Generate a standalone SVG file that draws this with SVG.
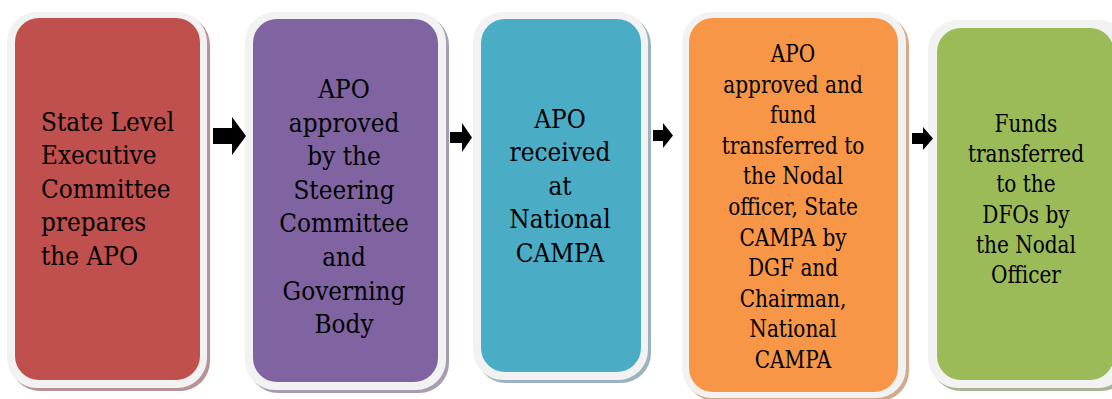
<svg xmlns="http://www.w3.org/2000/svg" width="1112" height="399" viewBox="0 0 1112 399">
<style>
.frame{fill:#f2f2f2}
.t{fill:#000;font-family:'DejaVu Serif',serif}
.big{font-size:26px}
.sm{font-size:23.7px}
.c{text-anchor:middle}
.arrow{fill:#000}
</style>
<rect width="1112" height="399" fill="#ffffff"/>
<g id="node1">
<rect x="10" y="15" width="200" height="376" rx="30" fill="#b89294"/>
<rect class="frame" x="7" y="12" width="200" height="376" rx="30"/>
<rect x="15" y="18" width="185" height="362" rx="24" fill="#c0504d"/>
<text class="t big" font-family="DejaVu Serif" transform="scale(0.895,1)"><tspan x="45.8" y="131">State Level</tspan><tspan x="45.8" y="164.5">Executive</tspan><tspan x="45.8" y="198">Committee</tspan><tspan x="45.8" y="231.5">prepares</tspan><tspan x="45.8" y="265">the APO</tspan></text>
</g>
<g id="node2">
<rect x="248" y="15" width="201" height="378" rx="30" fill="#a69db2"/>
<rect class="frame" x="245" y="12" width="201" height="378" rx="30"/>
<rect x="253" y="19" width="185" height="363" rx="24" fill="#8064a2"/>
<text class="t big c" font-family="DejaVu Serif" transform="scale(0.895,1)"><tspan x="384.4" y="98">APO</tspan><tspan x="384.4" y="131.6">approved</tspan><tspan x="384.4" y="165.2">by the</tspan><tspan x="384.4" y="198.8">Steering</tspan><tspan x="384.4" y="232.4">Committee</tspan><tspan x="384.4" y="266">and</tspan><tspan x="384.4" y="299.6">Governing</tspan><tspan x="384.4" y="333.2">Body</tspan></text>
</g>
<g id="node3">
<rect x="476" y="15" width="175" height="368" rx="30" fill="#9ab3be"/>
<rect class="frame" x="473" y="12" width="175" height="368" rx="30"/>
<rect x="481" y="19" width="160" height="353" rx="24" fill="#4bacc6"/>
<text class="t big c" font-family="DejaVu Serif" transform="scale(0.895,1)"><tspan x="625.7" y="128">APO</tspan><tspan x="625.7" y="161.5">received</tspan><tspan x="625.7" y="195">at</tspan><tspan x="625.7" y="228.5">National</tspan><tspan x="625.7" y="262">CAMPA</tspan></text>
</g>
<g id="node4">
<rect x="685" y="15" width="224" height="386" rx="30" fill="#d3aa8c"/>
<rect class="frame" x="682" y="12" width="224" height="386" rx="30"/>
<rect x="689" y="18" width="209" height="374" rx="24" fill="#f79646"/>
<text class="t sm c" font-family="DejaVu Serif" transform="scale(0.847,1)"><tspan x="936.3" y="62">APO</tspan><tspan x="936.3" y="92.6">approved and</tspan><tspan x="936.3" y="123.2">fund</tspan><tspan x="936.3" y="153.8">transferred to</tspan><tspan x="936.3" y="184.4">the Nodal</tspan><tspan x="936.3" y="215">officer, State</tspan><tspan x="936.3" y="245.6">CAMPA by</tspan><tspan x="936.3" y="276.2">DGF and</tspan><tspan x="936.3" y="306.8">Chairman,</tspan><tspan x="936.3" y="337.4">National</tspan><tspan x="936.3" y="368">CAMPA</tspan></text>
</g>
<g id="node5">
<rect x="931" y="23" width="200" height="368" rx="30" fill="#a7b596"/>
<rect class="frame" x="928" y="20" width="200" height="368" rx="30"/>
<rect x="937" y="28" width="177" height="352" rx="24" fill="#9bbb59"/>
<text class="t sm c" font-family="DejaVu Serif" transform="scale(0.847,1)"><tspan x="1211.3" y="132">Funds</tspan><tspan x="1211.3" y="162.2">transferred</tspan><tspan x="1211.3" y="192.4">to the</tspan><tspan x="1211.3" y="222.6">DFOs by</tspan><tspan x="1211.3" y="252.8">the Nodal</tspan><tspan x="1211.3" y="283">Officer</tspan></text>
</g>
<g id="connectors">
<polygon class="arrow" points="213,128 232,128 232,117 246,136 232,155 232,144 213,144"/>
<polygon class="arrow" points="450,132 462,132 462,123 472,137.5 462,152 462,143 450,143"/>
<polygon class="arrow" points="653,130 663,130 663,123 673,135.5 663,148 663,141 653,141"/>
<polygon class="arrow" points="912,133 923,133 923,127 933,138.5 923,150 923,144 912,144"/>
</g>
</svg>
